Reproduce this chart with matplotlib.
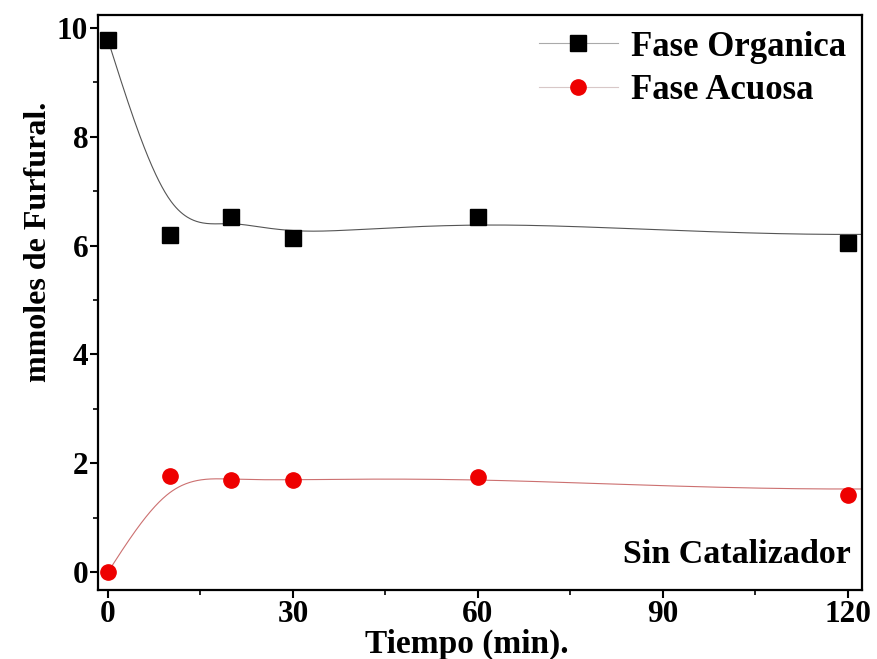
import numpy as np
import matplotlib
matplotlib.use("Agg")
import matplotlib.pyplot as plt
from matplotlib.lines import Line2D

# Reaction time (min) and mmol of furfural in each phase
tiempo = [0, 10, 20, 30, 60, 120]
fase_organica = [9.78, 6.20, 6.52, 6.14, 6.52, 6.05]
fase_acuosa = [0.00, 1.76, 1.70, 1.69, 1.74, 1.42]

x_ticks = [0, 30, 60, 90, 120]
y_ticks = [0, 2, 4, 6, 8, 10]


def bspline_curve(x, y, n_per_span=80):
    """Uniform cubic B-spline using the data points as control points.
    The control polygon is padded with a point reflection at the start
    and a mirror image (across the last time value) at the end."""
    x = list(map(float, x))
    y = list(map(float, y))
    px = [2 * x[0] - x[1]] + x + [2 * x[-1] - x[-2], 2 * x[-1] - x[-3]]
    py = [2 * y[0] - y[1]] + y + [y[-2], y[-3]]
    px, py = np.array(px), np.array(py)
    t = np.linspace(0.0, 1.0, n_per_span, endpoint=False)
    b = np.vstack([(1 - t) ** 3,
                   3 * t ** 3 - 6 * t ** 2 + 4,
                   -3 * t ** 3 + 3 * t ** 2 + 3 * t + 1,
                   t ** 3]) / 6.0
    xs, ys = [], []
    for j in range(len(px) - 3):
        xs.append(px[j:j + 4] @ b)
        ys.append(py[j:j + 4] @ b)
    return np.concatenate(xs), np.concatenate(ys)


plt.rcParams["font.family"] = ["Liberation Serif", "DejaVu Serif"]
plt.rcParams["font.weight"] = "bold"

fig = plt.figure(figsize=(8.78, 6.59), dpi=100)
ax = fig.add_axes([0.1116, 0.1047, 0.8702, 0.8725])

cx, cy = bspline_curve(tiempo, fase_organica)
ax.plot(cx, cy, color="#555555", lw=0.8, zorder=2)
cx, cy = bspline_curve(tiempo, fase_acuosa)
ax.plot(cx, cy, color="#cc7070", lw=0.8, zorder=2)

ax.plot(tiempo, fase_organica, ls="none", marker="s", ms=11, color="black", zorder=3)
ax.plot(tiempo, fase_acuosa, ls="none", marker="o", ms=11, color="#ee0000", zorder=3)

ax.set_xlim(-1.62, 122.3)
ax.set_ylim(-0.33, 10.24)
ax.set_xticks(x_ticks)
ax.set_yticks(y_ticks)
ax.set_xticks(np.arange(15, 121, 30), minor=True)
ax.set_yticks(np.arange(1, 10, 2), minor=True)

for s in ax.spines.values():
    s.set_linewidth(1.6)
ax.tick_params(which="major", direction="out", length=6, width=1.5,
               labelsize=22.5, pad=1)
ax.tick_params(which="minor", direction="out", length=3.5, width=1.2)
for lbl in ax.get_xticklabels() + ax.get_yticklabels():
    lbl.set_fontweight("bold")

ax.set_xlabel("Tiempo (min).", fontsize=24, fontweight="bold")
ax.xaxis.set_label_coords(0.483, -0.067)
ax.set_ylabel("mmoles de Furfural.", fontsize=23, fontweight="bold")
ax.yaxis.set_label_coords(-0.059, 0.605)

ax.text(0.985, 0.035, "Sin Catalizador", transform=ax.transAxes,
        ha="right", va="bottom", fontsize=24.5, fontweight="bold")

handles = [
    Line2D([], [], color="#aaaaaa", lw=0.8, marker="s", ms=11,
           markerfacecolor="black", markeredgecolor="black"),
    Line2D([], [], color="#d8c8c8", lw=0.8, marker="o", ms=11,
           markerfacecolor="#ee0000", markeredgecolor="#ee0000"),
]
leg = ax.legend(handles, ["Fase Organica", "Fase Acuosa"], loc="upper right",
                frameon=False, handlelength=2.3, handletextpad=0.37,
                labelspacing=0.3, borderaxespad=0.25, borderpad=0.2,
                prop={"weight": "bold", "size": 25})

fig.savefig("out.png", dpi=100)
